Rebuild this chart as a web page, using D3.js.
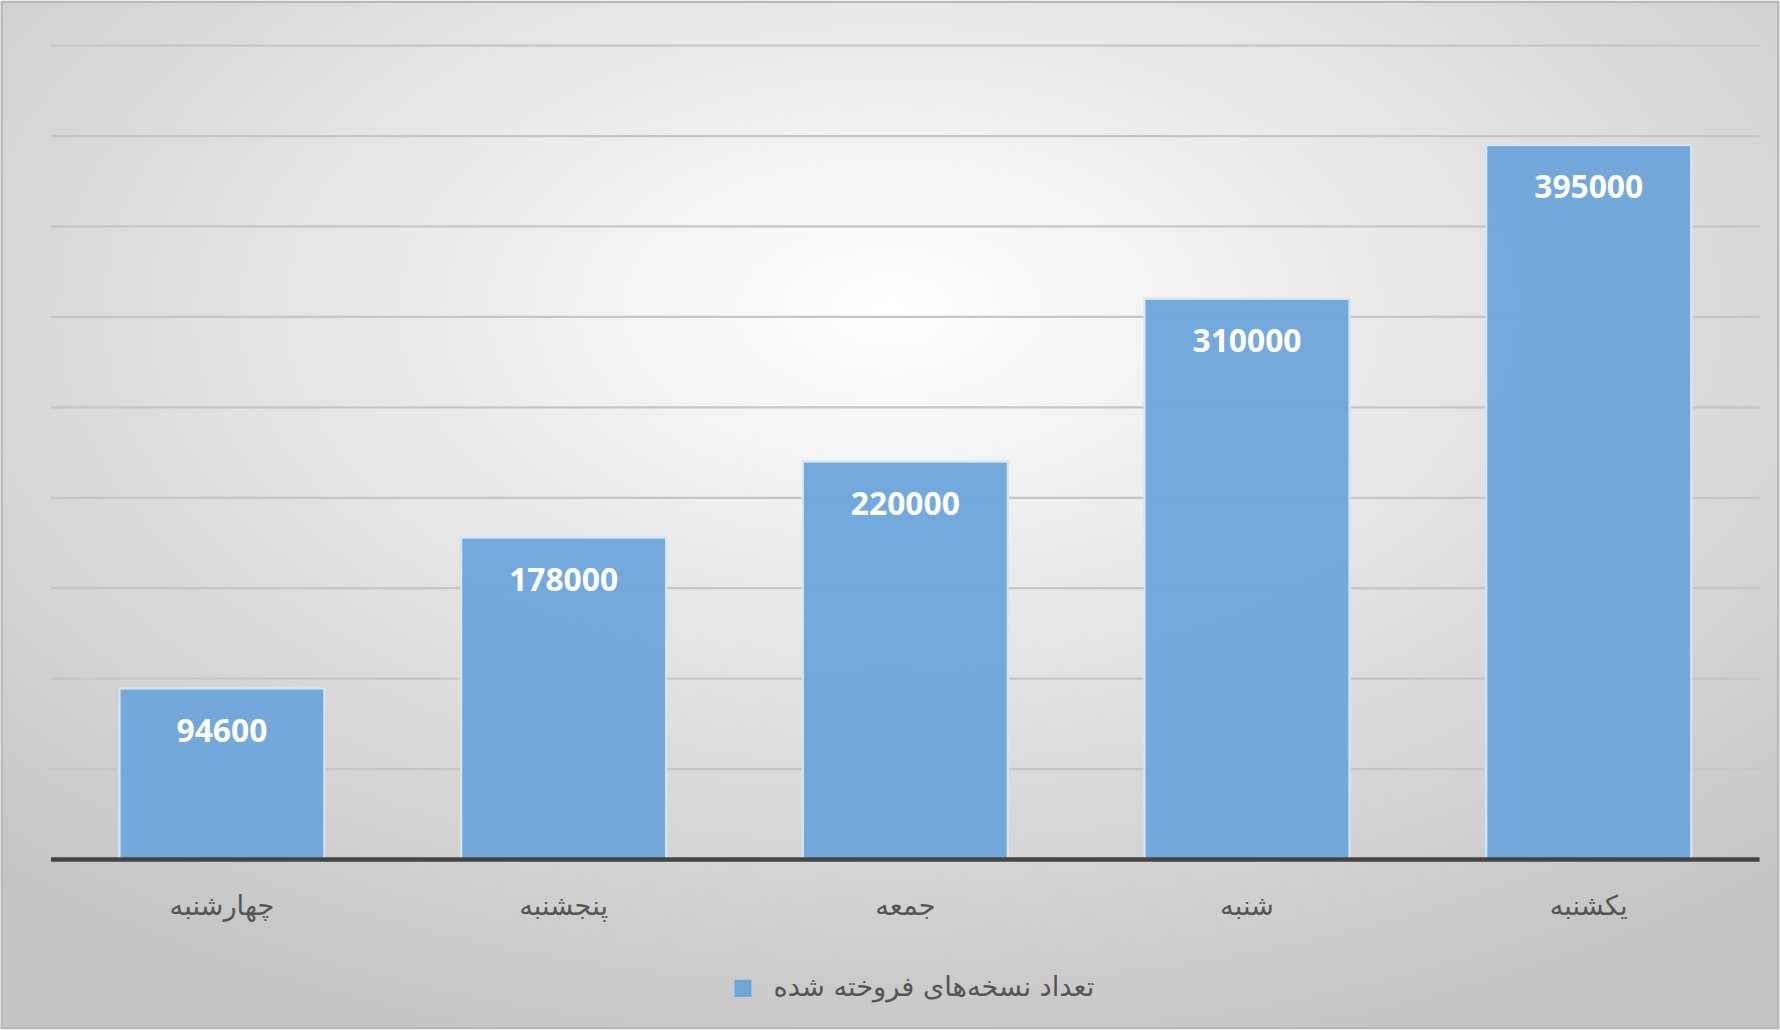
<!DOCTYPE html>
<html><head><meta charset="utf-8">
<script src="https://cdn.jsdelivr.net/npm/d3@7"></script>
<style>body{margin:0;background:#fff}svg{display:block}</style>
</head><body><svg id="c" width="1780" height="1030" viewBox="0 0 1568 907"></svg>
<script>
const categories = ["چهارشنبه", "پنجشنبه", "جمعه", "شنبه", "یکشنبه"];
const values = [94600, 178000, 220000, 310000, 395000];
const ticks = [0, 50000, 100000, 150000, 200000, 250000, 300000, 350000, 400000, 450000];
const seriesName = "تعداد نسخه‌های فروخته شده";

const svg = d3.select("#c");
const W = 1568, H = 907;
const defs = svg.append("defs");
const g = defs.append("radialGradient").attr("id", "bg")
  .attr("cx", "0.5").attr("cy", "0.3").attr("r", "0.75");
g.append("stop").attr("offset", "0").attr("stop-color", "#ffffff");
g.append("stop").attr("offset", "1").attr("stop-color", "#c4c4c4");
svg.append("rect").attr("x", 1.5).attr("y", 1.5).attr("width", W - 3).attr("height", H - 3)
  .attr("fill", "url(#bg)").attr("stroke", "#b8b8b8").attr("stroke-width", 2);

const x = d3.scaleBand().domain(categories).range([45, 1550]).paddingInner(0.4).paddingOuter(0.2);
const y = d3.scaleLinear().domain([0, 450000]).range([757, 40]);

svg.append("g").selectAll("line").data(ticks.slice(1)).join("line")
  .attr("x1", 45).attr("x2", 1550).attr("y1", d => y(d)).attr("y2", d => y(d))
  .attr("stroke", "#c6c6c6").attr("stroke-width", 2);

svg.append("g").selectAll("rect").data(values).join("rect")
  .attr("x", (d, i) => x(categories[i])).attr("width", x.bandwidth())
  .attr("y", d => y(d)).attr("height", d => y(0) - y(d))
  .attr("fill", "#6fa6da").attr("fill-opacity", 0.97)
  .attr("stroke", "#d4e5f5").attr("stroke-width", 2);

svg.append("line").attr("x1", 45).attr("x2", 1550).attr("y1", 757).attr("y2", 757)
  .attr("stroke", "#444").attr("stroke-width", 4);

svg.append("g").selectAll("text").data(values).join("text")
  .attr("x", (d, i) => x(categories[i]) + x.bandwidth() / 2).attr("y", d => y(d) + 47)
  .attr("text-anchor", "middle").attr("fill", "#fff")
  .attr("font-family", "Open Sans, DejaVu Sans, sans-serif").attr("font-weight", "bold")
  .attr("font-size", 28).text(d => d);

svg.append("g").selectAll("text").data(categories).join("text")
  .attr("x", d => x(d) + x.bandwidth() / 2).attr("y", 806)
  .attr("text-anchor", "middle").attr("fill", "#555")
  .attr("font-family", "DejaVu Sans, Noto Sans, sans-serif").attr("font-size", 24)
  .attr("direction", "rtl").text(d => d);

svg.append("rect").attr("x", 647).attr("y", 863).attr("width", 15).attr("height", 15).attr("fill", "#6fa6da");
svg.append("text").attr("x", 964).attr("y", 877).attr("direction", "rtl").attr("text-anchor", "start")
  .attr("fill", "#555").attr("font-family", "DejaVu Sans, Noto Sans, sans-serif").attr("font-size", 24)
  .text(seriesName);
</script></body></html>
